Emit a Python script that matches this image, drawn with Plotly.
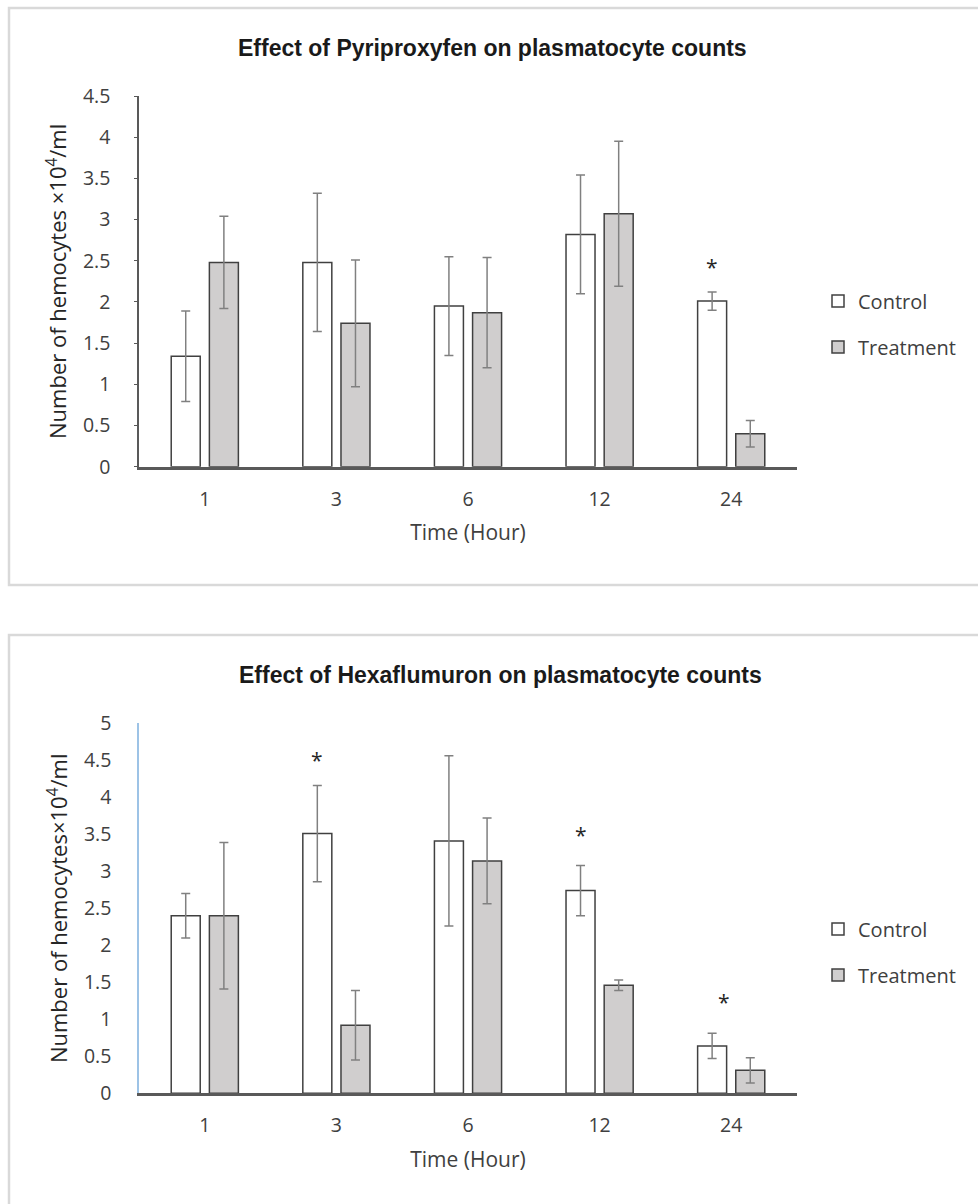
import plotly.graph_objects as go

hours = ["1", "3", "6", "12", "24"]

# Pyriproxyfen (top)
pyr_control = [1.34, 2.48, 1.95, 2.82, 2.01]
pyr_control_err = [0.55, 0.84, 0.60, 0.72, 0.11]
pyr_treat = [2.48, 1.74, 1.87, 3.07, 0.40]
pyr_treat_err = [0.56, 0.77, 0.67, 0.88, 0.16]
pyr_star_hours = ["24"]
pyr_star_y = [2.43]
pyr_star_shift = [-19]

# Hexaflumuron (bottom)
hex_control = [2.40, 3.51, 3.41, 2.74, 0.64]
hex_control_err = [0.30, 0.65, 1.15, 0.34, 0.17]
hex_treat = [2.40, 0.92, 3.14, 1.46, 0.31]
hex_treat_err = [0.99, 0.47, 0.58, 0.07, 0.17]
hex_star_hours = ["3", "12", "24"]
hex_star_y = [4.50, 3.49, 1.24]
hex_star_shift = [-19, -19, -7]

W, H = 978, 1204
FONT = "Open Sans"
TITLE_FONT = "Liberation Sans, Arial"
OUTLINE = "#404040"
ERRC = "#808080"

def px_x(p):
    return p / W

def px_y(p):
    return 1 - p / H

fig = go.Figure()

def add_pair(ctrl, cerr, trt, terr, xa, ya, legend):
    fig.add_trace(go.Bar(
        x=hours, y=ctrl, name="Control", xaxis=xa, yaxis=ya, legend=legend,
        marker=dict(color="white", line=dict(color=OUTLINE, width=1.5)),
        error_y=dict(type="data", array=cerr, visible=True, color=ERRC, thickness=1.5, width=4.5),
        legendgroup=legend + "c",
    ))
    fig.add_trace(go.Bar(
        x=hours, y=trt, name="Treatment", xaxis=xa, yaxis=ya, legend=legend,
        marker=dict(color="#d0cece", line=dict(color=OUTLINE, width=1.5)),
        error_y=dict(type="data", array=terr, visible=True, color=ERRC, thickness=1.5, width=4.5),
        legendgroup=legend + "t",
    ))

add_pair(pyr_control, pyr_control_err, pyr_treat, pyr_treat_err, "x", "y", "legend")
add_pair(hex_control, hex_control_err, hex_treat, hex_treat_err, "x2", "y2", "legend2")

xdom = [px_x(139), px_x(797)]
axis_common = dict(showgrid=False, zeroline=False, automargin=False,
                   tickfont=dict(family=FONT, size=19.5, color="#404040"))

annotations = []
for h, yv, s in zip(pyr_star_hours, pyr_star_y, pyr_star_shift):
    annotations.append(dict(x=hours.index(h), y=yv, xref="x", yref="y", text="*", showarrow=False,
                            xshift=s, font=dict(family=FONT, size=21, color="#262626")))
for h, yv, s in zip(hex_star_hours, hex_star_y, hex_star_shift):
    annotations.append(dict(x=hours.index(h), y=yv, xref="x2", yref="y2", text="*", showarrow=False,
                            xshift=s, font=dict(family=FONT, size=21, color="#262626")))

# Titles
annotations += [
    dict(text="<b>Effect of Pyriproxyfen on plasmatocyte counts</b>", x=px_x(492), y=px_y(48),
         xref="paper", yref="paper", showarrow=False, xanchor="center", yanchor="middle",
         font=dict(family=TITLE_FONT, size=23, color="#1a1a1a")),
    dict(text="<b>Effect of Hexaflumuron on plasmatocyte counts</b>", x=px_x(500), y=px_y(675),
         xref="paper", yref="paper", showarrow=False, xanchor="center", yanchor="middle",
         font=dict(family=TITLE_FONT, size=23, color="#1a1a1a")),
]

def xaxis_def(anchor):
    return dict(domain=xdom, anchor=anchor, type="category", range=[-0.5, len(hours) - 0.5],
                showline=True, linecolor="#595959",
                linewidth=2.5, ticks="", ticklabelstandoff=13,
                title=dict(text="Time (Hour)", font=dict(family=FONT, size=21, color="#404040"), standoff=15),
                **axis_common)

fig.update_layout(
    template="none",
    width=W, height=H,
    margin=dict(l=0, r=0, t=0, b=0, autoexpand=False),
    paper_bgcolor="white", plot_bgcolor="white",
    barmode="group", bargap=0.42, bargroupgap=0.24,
    font=dict(family=FONT, color="#404040"),
    xaxis=xaxis_def("y"),
    xaxis2=xaxis_def("y2"),
    yaxis=dict(domain=[px_y(466.7), px_y(96)], anchor="x", range=[0, 4.5], dtick=0.5,
               showline=True, linecolor="#595959", linewidth=1.5, ticks="outside", ticklen=3,
               tickcolor="#595959", ticklabelstandoff=20,
               title=dict(text="Number of hemocytes ×10<sup>4</sup>/ml", font=dict(family=FONT, size=22, color="#262626"), standoff=10),
               **axis_common),
    yaxis2=dict(domain=[px_y(1093.3), px_y(723.3)], anchor="x2", range=[0, 5], dtick=0.5,
                showline=True, linecolor="#9dc3e6", linewidth=1.5, ticks="",
                ticklabelstandoff=22,
                title=dict(text="Number of hemocytes×10<sup>4</sup>/ml", font=dict(family=FONT, size=22, color="#262626"), standoff=10),
                **axis_common),
    legend=dict(x=px_x(818), y=px_y(324), xanchor="left", yanchor="middle",
                font=dict(family=FONT, size=20, color="#404040"), tracegroupgap=17,
                bgcolor="rgba(0,0,0,0)", itemwidth=30),
    legend2=dict(x=px_x(818), y=px_y(952), xanchor="left", yanchor="middle",
                 font=dict(family=FONT, size=20, color="#404040"), tracegroupgap=17,
                 bgcolor="rgba(0,0,0,0)", itemwidth=30),
    annotations=annotations,
    shapes=[
        dict(type="rect", xref="paper", yref="paper", x0=px_x(9), x1=1.02, y0=px_y(585), y1=px_y(8),
             line=dict(color="#d9d9d9", width=2.5), layer="below"),
        dict(type="rect", xref="paper", yref="paper", x0=px_x(9), x1=1.02, y0=-0.02, y1=px_y(635),
             line=dict(color="#d9d9d9", width=2.5), layer="below"),
    ],
    showlegend=True,
)

fig.write_html("out.html")
